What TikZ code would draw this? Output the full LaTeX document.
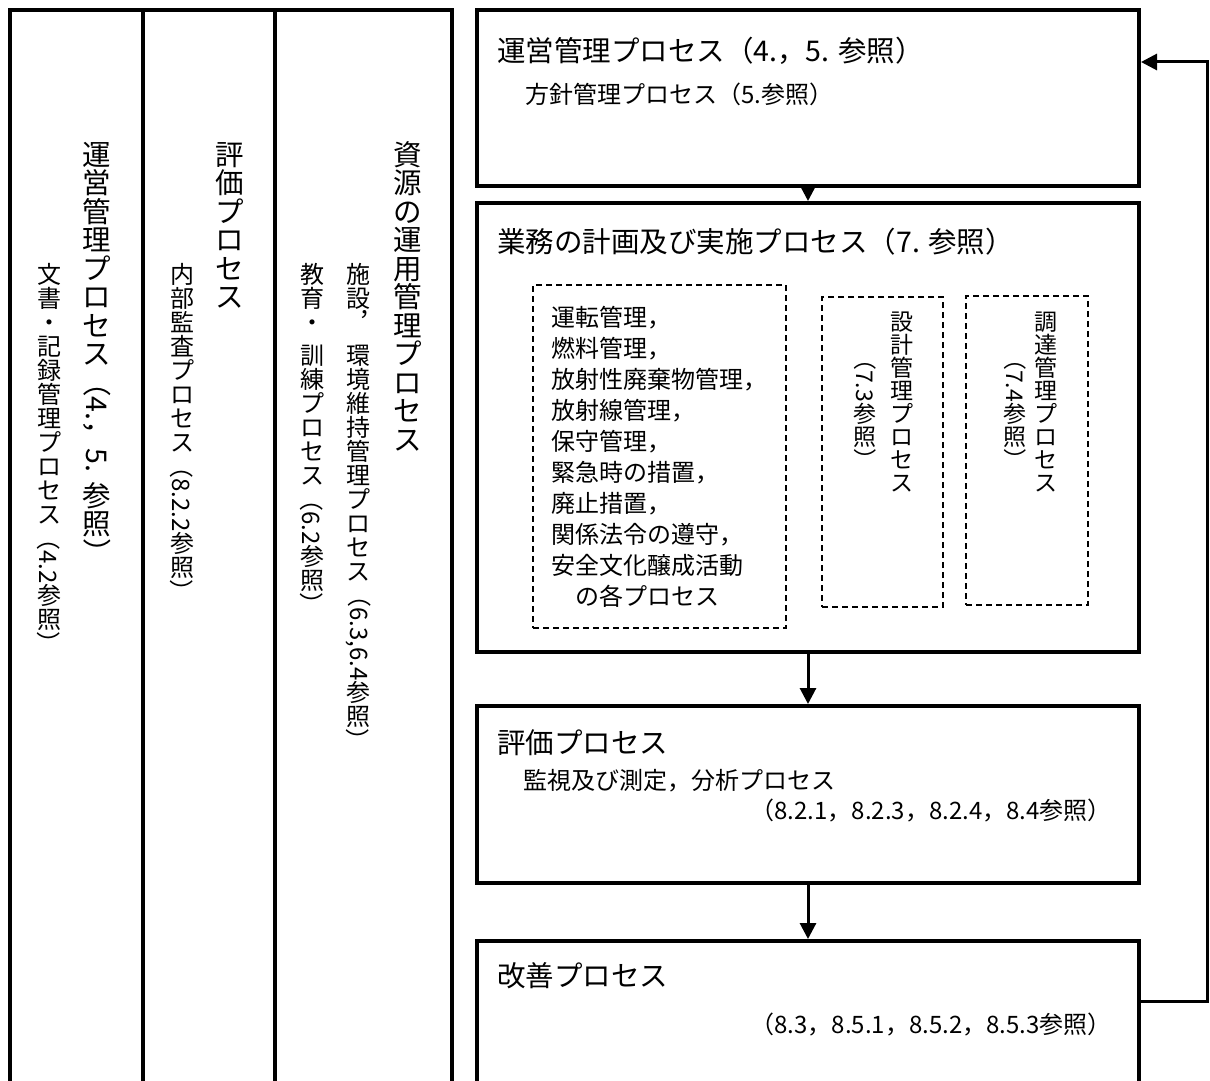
\documentclass[tikz,border=0pt]{standalone}
\usepackage{fontspec}
\setmainfont{Noto Sans CJK JP}
\usepackage{graphicx}
\usetikzlibrary{arrows.meta}

% vertical text: upright characters stacked, rotated runs for numbers
\makeatletter
\newcommand\tate[1]{\@tfor\tatechar:=#1\do{\hbox to 1em{\hss\vrule height .88em depth .12em width 0pt\tatechar\hss}}}
\makeatother
\newcommand\yoko[1]{\hbox to 1em{\hss\rotatebox{-90}{#1}\hss}}
\newcommand\tatebox[1]{\vbox{\offinterlineskip #1}}

\begin{document}
\begin{tikzpicture}[x=1pt,y=-1pt]
\tikzset{process/.style = {draw, line width=4pt, minimum width=662pt, inner sep=0pt}}
\tikzset{subproc/.style = {draw, line width=2pt, dash pattern=on 6pt off 4pt, inner sep=0pt}}
\tikzset{flow/.style = {line width=3pt, -{Triangle[length=16pt,width=16pt]}}}
\tikzset{bigtext/.style = {font=\fontsize{28.5}{34}\selectfont, inner sep=0pt}}
\tikzset{smalltext/.style = {font=\fontsize{24}{31}\selectfont, inner sep=0pt}}
\tikzset{coltext/.style = {font=\fontsize{23}{23}\selectfont, inner sep=0pt, anchor=north}}

\useasboundingbox (0,0) rectangle (1210,1081);
\clip (0,0) rectangle (1210,1081);

% left panel
\draw[line width=4pt] (10,1090) -- (10,10) -- (452,10) -- (452,1090);
\foreach \x in {143,275}
\draw[line width=4pt] (\x,10) -- (\x,1090);

\node[bigtext, anchor=north] (opmain) at (97,140) {\tatebox{\tate{運営管理プロセス}\yoko{（4.，5. }\tate{参照}\yoko{）}}};
\node[smalltext, anchor=north] (opdoc) at (49,262) {\tatebox{\tate{文書・記録管理プロセス}\yoko{（4.2}\tate{参照}\yoko{）}}};
\node[bigtext, anchor=north] (evmain) at (230,140) {\tatebox{\tate{評価プロセス}}};
\node[smalltext, anchor=north] (evaudit) at (182,262) {\tatebox{\tate{内部監査プロセス}\yoko{（8.2.2}\tate{参照}\yoko{）}}};
\node[bigtext, anchor=north] (resmain) at (408,140) {\tatebox{\tate{資源の運用管理プロセス}}};
\node[smalltext, anchor=north] (resfac) at (358,262) {\tatebox{\tate{施設︐}\kern9pt\tate{環境維持管理プロセス}\yoko{（6.3,6.4}\tate{参照}\yoko{）}}};
\node[smalltext, anchor=north] (restrain) at (312,262) {\tatebox{\tate{教育・}\kern9pt\tate{訓練プロセス}\yoko{（6.2}\tate{参照}\yoko{）}}};

% process boxes
\node[process, minimum height=176pt] (mgmt) at (808,98) {};
\node[process, minimum height=449pt] (plan) at (808,427.5) {};
\node[process, minimum height=177pt] (eval) at (808,794.5) {};
\node[process, minimum height=180pt] (improve) at (808,1031) {};

\node[bigtext, anchor=west] (mgmttitle) at (497,51) {運営管理プロセス（4.，5. 参照）};
\node[smalltext, anchor=west] (mgmtsub) at (525,94) {方針管理プロセス（5.参照）};

\node[bigtext, anchor=west] (plantitle) at (497,242) {業務の計画及び実施プロセス（7. 参照）};
\node[subproc, smalltext, align=left, minimum width=253pt, minimum height=343pt] (ops) at (659.5,456.5)
  {運転管理，\\燃料管理，\\放射性廃棄物管理，\\放射線管理，\\保守管理，\\緊急時の措置，\\廃止措置，\\関係法令の遵守，\\安全文化醸成活動\\　の各プロセス};
\node[subproc, minimum width=121pt, minimum height=310pt] (design) at (882.5,452) {};
\node[coltext] (designname) at (902,310) {\tatebox{\tate{設計管理プロセス}}};
\node[coltext] (designref) at (865,347) {\tatebox{\yoko{（7.3}\tate{参照}\yoko{）}}};
\node[subproc, minimum width=122pt, minimum height=309pt] (procure) at (1027,450.5) {};
\node[coltext] (procurename) at (1046,310) {\tatebox{\tate{調達管理プロセス}}};
\node[coltext] (procureref) at (1015,347) {\tatebox{\yoko{（7.4}\tate{参照}\yoko{）}}};

\node[bigtext, anchor=west] (evaltitle) at (497,743) {評価プロセス};
\node[smalltext, anchor=west] (evalsub) at (523,781) {監視及び測定，分析プロセス};
\node[smalltext, anchor=east] (evalref) at (1112,811) {（8.2.1，8.2.3，8.2.4，8.4参照）};

\node[bigtext, anchor=west] (imptitle) at (497,976) {改善プロセス};
\node[smalltext, anchor=east] (impref) at (1112,1025) {（8.3，8.5.1，8.5.2，8.5.3参照）};

\foreach \from/\to in {mgmt/plan, plan/eval, eval/improve}
\draw[flow] (\from) -- (\to);

% feedback loop
\coordinate (retlow) at (1207,1001);
\coordinate (rethigh) at (1207,62);
\draw[flow] (improve.east |- retlow) -- (retlow) -- (rethigh) -- (mgmt.east |- rethigh);

\end{tikzpicture}
\end{document}
